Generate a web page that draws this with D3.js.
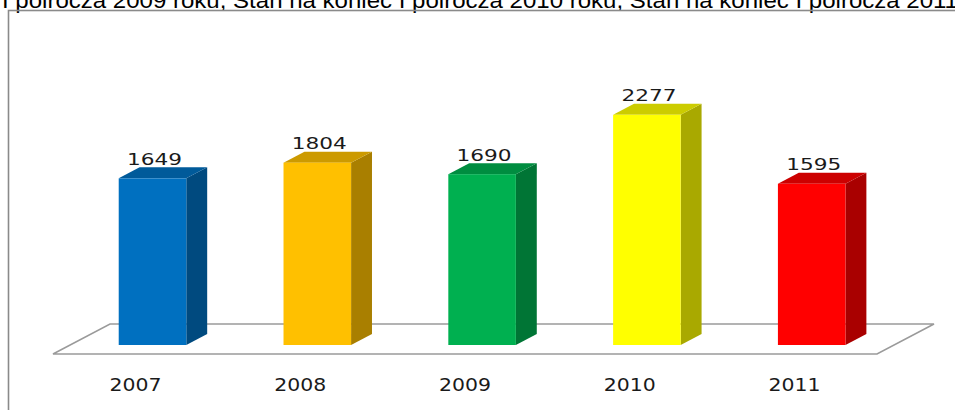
<!DOCTYPE html>
<html>
<head>
<meta charset="utf-8">
<script src="https://cdnjs.cloudflare.com/ajax/libs/d3/7.8.5/d3.min.js"></script>
<style>
  html, body { margin: 0; padding: 0; background: #fff; overflow: hidden; }
  svg { display: block; }
</style>
</head>
<body>
<div id="chart"></div>
<script>
// data
const years = ["2007", "2008", "2009", "2010", "2011"];
const counts = [1649, 1804, 1690, 2277, 1595];
const titleText = "I polrocza 2009 roku, Stan na koniec I polrocza 2010 roku, Stan na koniec I polrocza 2011";

// palette (front face of each bar)
const palette = ["#0070C0", "#FFC000", "#00B050", "#FFFF00", "#FF0000"];

const W = 955, H = 410;
const svg = d3.select("#chart").append("svg")
    .attr("width", W)
    .attr("height", H);

// title, cut off by the top of the window
svg.append("text")
    .attr("x", 2)
    .attr("y", 8)
    .attr("font-family", "Liberation Sans, Arial, sans-serif")
    .attr("font-size", 22)
    .attr("fill", "#000")
    .attr("textLength", 956)
    .attr("lengthAdjust", "spacingAndGlyphs")
    .text(titleText);

// chart frame
svg.append("rect")
    .attr("x", 8.5)
    .attr("y", 10.5)
    .attr("width", W + 10)
    .attr("height", H + 10)
    .attr("fill", "none")
    .attr("stroke", "#8a8a8a")
    .attr("stroke-width", 1.6);

// 3d projection: one unit of depth moves (dx, dy)
const dx = 1.9, dy = -1;
const floorFront = 354, floorDepth = 30;
const barDepthStart = 9, barDepth = 11;

const x = d3.scaleBand()
    .domain(years)
    .range([53, 877])
    .padding(0);

const baseY = floorFront - barDepthStart;
const y = d3.scaleLinear()
    .domain([0, 2500])
    .range([baseY, baseY - 252.7]);

// floor
const fx0 = x.range()[0], fx1 = x.range()[1];
svg.append("path")
    .attr("d", d3.line()([
        [fx0, floorFront],
        [fx1, floorFront],
        [fx1 + dx * floorDepth, floorFront + dy * floorDepth],
        [fx0 + dx * floorDepth, floorFront + dy * floorDepth]
    ]) + "Z")
    .attr("fill", "#fff")
    .attr("stroke", "#9a9a9a")
    .attr("stroke-width", 1.5);

const barW = x.bandwidth() * 0.41;
const ox = dx * barDepthStart;   // shift of bar front from floor front
const bx = dx * barDepth, by = dy * barDepth;

const bars = svg.selectAll("g.bar")
    .data(years.map((yr, i) => ({ year: yr, value: counts[i], color: palette[i] })))
    .join("g")
    .attr("class", "bar");

const left = d => x(d.year) + (x.bandwidth() - barW) / 2 + ox;

// side face
bars.append("path")
    .attr("d", d => {
        const r = left(d) + barW, t = y(d.value), b = y(0);
        return d3.line()([[r, b], [r, t], [r + bx, t + by], [r + bx, b + by]]) + "Z";
    })
    .attr("fill", d => d3.color(d.color).darker(1.15));

// top face
bars.append("path")
    .attr("d", d => {
        const l = left(d), r = l + barW, t = y(d.value);
        return d3.line()([[l, t], [r, t], [r + bx, t + by], [l + bx, t + by]]) + "Z";
    })
    .attr("fill", d => d3.color(d.color).darker(0.62));

// front face
bars.append("rect")
    .attr("x", d => left(d))
    .attr("y", d => y(d.value))
    .attr("width", barW)
    .attr("height", d => y(0) - y(d.value))
    .attr("fill", d => d.color);

// value labels
bars.append("text")
    .attr("x", d => left(d) + barW / 2 + 2)
    .attr("y", d => y(d.value) - 13.5)
    .attr("text-anchor", "middle")
    .attr("font-family", "DejaVu Sans, Verdana, sans-serif")
    .attr("font-size", 16)
    .attr("fill", "#1a1a1a")
    .attr("textLength", 55)
    .attr("lengthAdjust", "spacingAndGlyphs")
    .text(d => d.value);

// category labels
svg.selectAll("text.cat")
    .data(years)
    .join("text")
    .attr("class", "cat")
    .attr("x", d => x(d) + x.bandwidth() / 2)
    .attr("y", 390.5)
    .attr("text-anchor", "middle")
    .attr("font-family", "DejaVu Sans, Verdana, sans-serif")
    .attr("font-size", 18)
    .attr("fill", "#1a1a1a")
    .attr("textLength", 52)
    .attr("lengthAdjust", "spacingAndGlyphs")
    .text(d => d);
</script>
</body>
</html>
